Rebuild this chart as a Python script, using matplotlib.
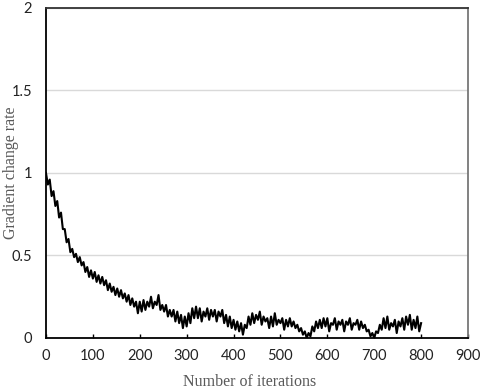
import numpy as np
import matplotlib.pyplot as plt

# values, one every 4 iterations
iterations = np.arange(0, 804, 4)
rate = [
    1.00, 0.93, 0.96, 0.86, 0.89, 0.80, 0.83, 0.73, 0.76, 0.66,
    0.66, 0.58, 0.60, 0.52, 0.54, 0.49, 0.51, 0.46, 0.49, 0.44,
    0.46, 0.40, 0.43, 0.37, 0.41, 0.36, 0.40, 0.34, 0.38, 0.33,
    0.37, 0.32, 0.35, 0.29, 0.33, 0.28, 0.31, 0.26, 0.30, 0.25,
    0.29, 0.24, 0.27, 0.22, 0.26, 0.20, 0.24, 0.19, 0.22, 0.15,
    0.22, 0.16, 0.23, 0.17, 0.22, 0.19, 0.25, 0.18, 0.22, 0.20,
    0.26, 0.17, 0.20, 0.16, 0.20, 0.13, 0.17, 0.13, 0.17, 0.10,
    0.16, 0.09, 0.14, 0.06, 0.13, 0.07, 0.15, 0.09, 0.18, 0.12,
    0.19, 0.12, 0.18, 0.10, 0.16, 0.13, 0.18, 0.11, 0.17, 0.13,
    0.17, 0.10, 0.16, 0.13, 0.17, 0.09, 0.14, 0.07, 0.13, 0.06,
    0.11, 0.05, 0.10, 0.04, 0.09, 0.02, 0.08, 0.06, 0.13, 0.08,
    0.15, 0.09, 0.14, 0.11, 0.16, 0.08, 0.13, 0.10, 0.12, 0.06,
    0.13, 0.07, 0.15, 0.08, 0.11, 0.09, 0.12, 0.05, 0.11, 0.07,
    0.12, 0.07, 0.10, 0.06, 0.08, 0.04, 0.06, 0.02, 0.04, 0.00,
    0.03, 0.01, 0.07, 0.04, 0.10, 0.06, 0.11, 0.06, 0.12, 0.07,
    0.12, 0.04, 0.09, 0.08, 0.12, 0.05, 0.10, 0.08, 0.11, 0.04,
    0.10, 0.08, 0.12, 0.05, 0.09, 0.08, 0.11, 0.05, 0.10, 0.06,
    0.08, 0.04, 0.05, 0.01, 0.03, 0.00, 0.04, 0.03, 0.08, 0.05,
    0.12, 0.06, 0.13, 0.05, 0.09, 0.07, 0.11, 0.03, 0.10, 0.07,
    0.12, 0.05, 0.13, 0.08, 0.14, 0.05, 0.11, 0.06, 0.13, 0.04,
    0.09,
]
x_ticks = list(range(0, 1000, 100))
y_ticks = [0, 0.5, 1, 1.5, 2]
y_tick_labels = ['0', '0.5', '1', '1.5', '2']

fig = plt.figure(figsize=(4.8, 3.92), dpi=100)
ax = fig.add_axes([0.0958, 0.1378, 0.8792, 0.8418])

ax.plot(iterations, rate, color='black', linewidth=1.5)

ax.set_xlim(0, 900)
ax.set_ylim(0, 2)
ax.set_xticks(x_ticks)
ax.set_yticks(y_ticks)
ax.set_yticklabels(y_tick_labels)
for lab in ax.get_xticklabels() + ax.get_yticklabels():
    lab.set_family('Lato')
    lab.set_fontsize(10.5)
    lab.set_color('#222222')

ax.tick_params(axis='x', direction='in', length=3, width=1, pad=8)
ax.tick_params(axis='y', length=0, pad=10)

ax.yaxis.grid(True, color='#d9d9d9', linewidth=1)
ax.set_axisbelow(True)

for side in ['left', 'bottom']:
    ax.spines[side].set_linewidth(1.3)
    ax.spines[side].set_color('black')
ax.spines['top'].set_color('#333333')
ax.spines['right'].set_color('#777777')
ax.spines['top'].set_linewidth(1.3)
ax.spines['right'].set_linewidth(1.3)

# axis titles placed in figure coords so they stay inside the canvas
fig.text(0.52, 0.026, 'Number of iterations', family='Liberation Serif',
         fontsize=11.5, color='#595959', ha='center', va='center')
fig.text(0.022, 0.56, 'Gradient change rate', family='Liberation Serif',
         fontsize=11.5, color='#595959', ha='center', va='center', rotation=90)

fig.savefig('out.png', dpi=100)
